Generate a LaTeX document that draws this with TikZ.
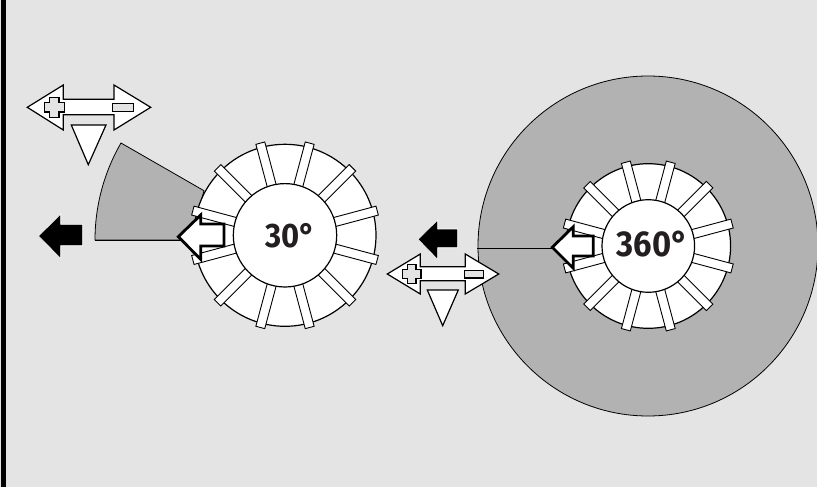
\documentclass[tikz,border=0pt]{standalone}
\usepackage{fontspec}
\setmainfont{Fira Sans}
\definecolor{bgc}{HTML}{E4E4E4}
\definecolor{sector}{HTML}{B2B2B2}
\definecolor{ink}{HTML}{231F20}
\tikzset{
  x=1pt,y=-1pt,
  thin line/.style={draw=black,line width=1.2pt},
  bar/.style={draw=black,fill=white,line width=.9pt},
  whitearrow/.style={draw=black,fill=white,line width=2.8pt,line join=miter},
  blackarrow/.style={draw=white,fill=black,line width=.6pt},
  outlined/.style={draw=black,fill=white,line width=1.2pt,line join=miter},
  mark shape/.style={draw=black,fill=bgc,line width=1.2pt},
  angle label/.style={font=\bfseries,text=ink,inner sep=0pt},
}
\newcommand{\wheel}[4]{% cx, cy, inner r, outer r
  \fill[white] (#1,#2) circle[radius=#4];
  \draw[thin line] (#1,#2) circle[radius=#4];
  \foreach \a in {15,45,...,345}{
    \begin{scope}[shift={(#1,#2)},rotate=\a]
      \draw[bar] (#3-2,-4.6) rectangle (#4+4.4,4.6);
    \end{scope}
  }
  \fill[white] (#1,#2) circle[radius=#3];
  \draw[thin line,line width=1.2pt] (#1,#2) circle[radius=#3];
}
\begin{document}
\begin{tikzpicture}
\useasboundingbox (0,0) rectangle (817,487);
\fill[bgc] (0,0) rectangle (817,487);
\fill[black] (1,0) rectangle (6,487);
% left sector
\draw[fill=sector,line width=.8pt] (95,240) arc[start angle=180,end angle=150,radius=194,y radius=-194] -- (204,190.7) -- (190,240) -- cycle;
\draw[line width=.8pt] (95,240) -- (190,240);
% big disc
\draw[fill=sector,line width=.8pt] (648,246) circle[radius=170];
\coordinate (discleft) at (477,248);
\coordinate (arrowtip) at (553,248);
\draw[line width=1pt] (discleft) -- (arrowtip);
% wheels
\wheel{285}{235.3}{51.7}{91}
\wheel{648.3}{246}{46.3}{82.3}
\node[angle label,font=\bfseries\fontsize{34}{34}\selectfont,xscale=.91] (a30) at (290.5,236) {30°};
\node[angle label,font=\bfseries\fontsize{36}{36}\selectfont,xscale=.91] (a360) at (652.5,244) {360°};
% white arrows
\draw[whitearrow] (178.3,236.7) -- (200.7,215) -- (200.7,224) -- (224,224) -- (224,246) -- (200.7,246) -- (200.7,259.3) -- cycle;
\draw[whitearrow] (552.3,247.3) -- (573.3,226.7) -- (573.3,236) -- (593.3,236) -- (593.3,256) -- (573.3,256) -- (573.3,268.3) -- cycle;
% black arrows
\draw[blackarrow] (38.5,236) -- (60.7,214) -- (60.7,224.3) -- (82.7,224.3) -- (82.7,245.7) -- (60.7,245.7) -- (60.7,258.5) -- cycle;
\draw[blackarrow] (418,239.3) -- (437.7,220) -- (437.7,229) -- (457.7,229) -- (457.7,247.7) -- (437.7,247.7) -- (437.7,259.5) -- cycle;
% double arrows left
\draw[outlined] (27.3,107.3) -- (63.3,85) -- (63.3,99.3) -- (114,99.3) -- (114,85) -- (150.7,107.3) -- (114,130) -- (114,114.7) -- (63.3,114.7) -- (63.3,130) -- cycle;
\draw[mark shape] (49.7,97.6) -- (59,97.6) -- (59,102.6) -- (64.1,102.6) -- (64.1,112) -- (59,112) -- (59,117.1) -- (49.7,117.1) -- (49.7,112) -- (44.6,112) -- (44.6,102.6) -- (49.7,102.6) -- cycle;
\draw[mark shape] (112.7,103.3) rectangle (133.3,111.7);
\draw[outlined] (71.3,125) -- (106,125) -- (88.3,164.7) -- cycle;
% double arrows right
\draw[outlined] (387.3,274) -- (420.3,254) -- (420.3,266.7) -- (465.3,266.7) -- (465.3,254) -- (498.7,274) -- (465.3,294) -- (465.3,280.7) -- (420.3,280.7) -- (420.3,294) -- cycle;
\draw[mark shape] (407.4,264.7) -- (416,264.7) -- (416,269.7) -- (421,269.7) -- (421,278.3) -- (416,278.3) -- (416,283.3) -- (407.4,283.3) -- (407.4,278.3) -- (402.4,278.3) -- (402.4,269.7) -- (407.4,269.7) -- cycle;
\draw[mark shape] (464.7,270.7) rectangle (483.3,278);
\draw[outlined] (427.3,290) -- (458.3,290) -- (442.7,325.7) -- cycle;
\end{tikzpicture}
\end{document}
